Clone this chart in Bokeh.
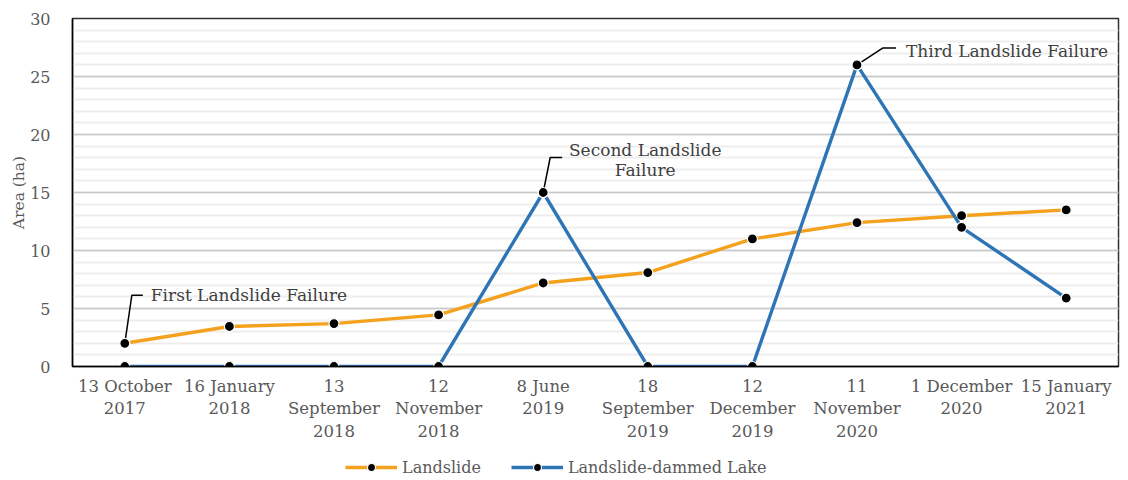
from bokeh.plotting import figure
from bokeh.layouts import column
from bokeh.models import (Range1d, FixedTicker, Legend, LegendItem, Label)
from bokeh.embed import file_html
from bokeh.resources import INLINE

dates = ["13 October\n2017", "16 January\n2018", "13\nSeptember\n2018", "12\nNovember\n2018",
         "8 June\n2019", "18\nSeptember\n2019", "12\nDecember\n2019", "11\nNovember\n2020",
         "1 December\n2020", "15 January\n2021"]
landslide = [2.0, 3.45, 3.7, 4.45, 7.2, 8.1, 11.0, 12.4, 13.0, 13.5]
lake = [0, 0, 0, 0, 15.0, 0, 0, 26.0, 12.0, 5.9]
y_ticks = [0, 5, 10, 15, 20, 25, 30]
series_names = ["Landslide", "Landslide-dammed Lake"]
annotations = ["First Landslide Failure", "Second Landslide\nFailure", "Third Landslide Failure"]

FONT = "DejaVu Serif"
GREY = "#595959"
ORANGE = "#F4A11D"
BLUE = "#2E75B6"

xs = list(range(len(dates)))

p = figure(frame_width=1046, frame_height=348, output_backend="svg", toolbar_location=None,
           x_range=Range1d(-0.5, len(dates) - 0.5), y_range=Range1d(0, 30),
           min_border_left=72, min_border_top=18, min_border_right=10, min_border_bottom=80)
p.background_fill_color = "white"
p.border_fill_color = "white"
p.outline_line_color = "#303030"
p.outline_line_width = 1.5

# axes
p.xaxis.ticker = FixedTicker(ticks=xs)
p.xaxis.major_label_overrides = {i: d for i, d in enumerate(dates)}
p.xaxis.major_tick_line_color = None
p.xaxis.minor_tick_line_color = None
p.xaxis.axis_line_color = "black"
p.xaxis.axis_line_width = 1.5
p.xaxis.major_label_text_font = FONT
p.xaxis.major_label_text_font_size = "16.5px"
p.xaxis.major_label_text_color = GREY
p.xaxis.major_label_text_line_height = 1.2
p.xaxis.major_label_standoff = 4

p.yaxis.ticker = FixedTicker(ticks=y_ticks, minor_ticks=list(range(0, 31)))
p.yaxis.major_tick_line_color = None
p.yaxis.minor_tick_line_color = None
p.yaxis.axis_line_color = "black"
p.yaxis.axis_line_width = 1.5
p.yaxis.major_label_text_font = FONT
p.yaxis.major_label_text_font_size = "16px"
p.yaxis.major_label_text_color = GREY
p.yaxis.major_label_standoff = 16
p.yaxis.axis_label = "Area (ha)"
p.yaxis.axis_label_text_font = FONT
p.yaxis.axis_label_text_font_size = "15.5px"
p.yaxis.axis_label_text_font_style = "normal"
p.yaxis.axis_label_text_color = GREY
p.yaxis.axis_label_standoff = -1

p.xgrid.grid_line_color = None
p.ygrid.grid_line_color = "#C8C8C8"
p.ygrid.grid_line_width = 1.5
p.ygrid.minor_grid_line_color = "#EEEEEE"
p.ygrid.minor_grid_line_width = 2

# series
p.line(xs, landslide, line_color=ORANGE, line_width=3.4)
p.scatter(xs, landslide, size=10, fill_color="black", line_color="white", line_width=1.2)
p.line(xs, lake, line_color=BLUE, line_width=3.4)
p.scatter(xs, lake, size=10, fill_color="black", line_color="white", line_width=1.2)

# annotations (leader lines from points, offsets in screen pixels converted to data units)
PX_X = 1046 / len(dates)
PX_Y = 348 / 30
ann_specs = [
    (0, landslide[0], [(0, 0), (7, 48), (18, 48)], 26, 48, "left"),
    (4, lake[4], [(0, 0), (7, 35), (19, 35)], 102, 35, "center"),
    (7, lake[7], [(0, 0), (26, 17), (39, 17)], 49, 14, "left"),
]
for (i, yv, pts, tx, ty, align), txt in zip(ann_specs, annotations):
    p.line([i + dx / PX_X for dx, dy in pts], [yv + dy / PX_Y for dx, dy in pts],
           line_color="black", line_width=1.5)
    p.scatter([i], [yv], size=10, fill_color="black", line_color="white", line_width=1.2)
    lines = txt.split("\n")
    for k, ln in enumerate(lines):
        p.add_layout(Label(x=i, y=yv, x_offset=tx, y_offset=ty - 20 * k + (8 if len(lines) > 1 else 0),
                           text=ln, text_font=FONT, text_font_size="17px",
                           text_color="#404040", text_align=align, text_baseline="middle"))

# legend strip below the chart (its own small figure so it is not clipped);
# its proxy renderers sit outside the visible range, only their legend glyphs show
lf = figure(width=1128, height=34, output_backend="svg", toolbar_location=None,
            x_axis_location=None, y_axis_location=None,
            x_range=Range1d(0, 1), y_range=Range1d(0, 1),
            min_border_left=0, min_border_right=0, min_border_top=0, min_border_bottom=0)
lf.outline_line_color = None
lf.xgrid.grid_line_color = None
lf.ygrid.grid_line_color = None
items = []
for name, col in zip(series_names, [ORANGE, BLUE]):
    rl = lf.line([5, 6], [5, 5], line_color=col, line_width=3.4)
    rs = lf.scatter([5], [5], size=10, fill_color="black", line_color="white", line_width=1.2)
    items.append(LegendItem(label=name, renderers=[rl, rs]))

legend = Legend(items=items, orientation="horizontal", location=(273, 3))
legend.border_line_color = None
legend.background_fill_alpha = 0
legend.label_text_font = FONT
legend.label_text_font_size = "16px"
legend.label_text_color = GREY
legend.glyph_width = 52
legend.spacing = 30
legend.label_standoff = 5
legend.margin = 0
legend.padding = 0
lf.add_layout(legend, "center")

layout = column(p, lf, spacing=0)
open("out.html", "w").write(file_html(layout, INLINE))
